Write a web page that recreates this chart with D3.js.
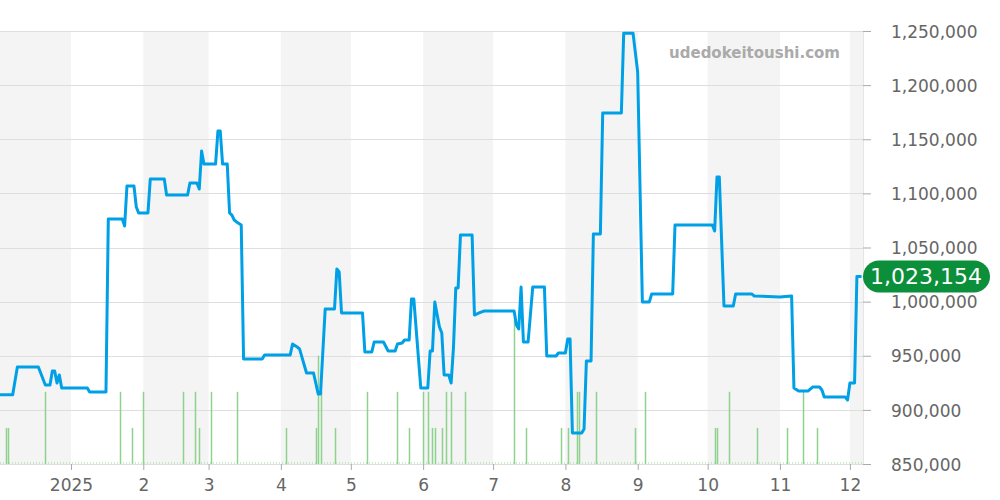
<!DOCTYPE html>
<html>
<head>
<meta charset="utf-8">
<script src="https://cdn.jsdelivr.net/npm/d3@7"></script>
<style>
  body { margin: 0; background: #fff; }
  svg text { font-family: "DejaVu Sans", sans-serif; }
</style>
</head>
<body>
<div class="chart"></div>
<script>
// price history (line) and listing counts (green bars)

var w = 1000, h = 500;

var priceDates = [
  "2024-12-01","2024-12-07","2024-12-09","2024-12-18","2024-12-21","2024-12-23","2024-12-24","2024-12-25",
  "2024-12-26","2024-12-27","2024-12-28","2025-01-08","2025-01-09","2025-01-16","2025-01-17","2025-01-23",
  "2025-01-24","2025-01-25","2025-01-28","2025-01-29","2025-01-30","2025-02-03","2025-02-04","2025-02-10",
  "2025-02-11","2025-02-20","2025-02-21","2025-02-24","2025-02-25","2025-02-26","2025-02-27","2025-03-04",
  "2025-03-05","2025-03-06","2025-03-07","2025-03-09","2025-03-10","2025-03-11","2025-03-12","2025-03-13",
  "2025-03-15","2025-03-16","2025-03-24","2025-03-25","2025-04-05","2025-04-06","2025-04-08","2025-04-09",
  "2025-04-12","2025-04-15","2025-04-17","2025-04-18","2025-04-20","2025-04-24","2025-04-25","2025-04-26",
  "2025-04-27","2025-05-06","2025-05-07","2025-05-10","2025-05-11","2025-05-15","2025-05-17","2025-05-20",
  "2025-05-21","2025-05-23","2025-05-24","2025-05-26","2025-05-27","2025-05-28","2025-05-31","2025-06-03",
  "2025-06-04","2025-06-05","2025-06-06","2025-06-08","2025-06-09","2025-06-10","2025-06-12","2025-06-13",
  "2025-06-14","2025-06-15","2025-06-16","2025-06-17","2025-06-22","2025-06-23","2025-06-25","2025-06-27",
  "2025-07-10","2025-07-11","2025-07-12","2025-07-13","2025-07-14","2025-07-16","2025-07-18","2025-07-23",
  "2025-07-24","2025-07-28","2025-07-29","2025-08-01","2025-08-02","2025-08-03","2025-08-04","2025-08-08",
  "2025-08-09","2025-08-10","2025-08-12","2025-08-13","2025-08-16","2025-08-17","2025-08-25","2025-08-26",
  "2025-08-30","2025-09-01","2025-09-03","2025-09-06","2025-09-07","2025-09-16","2025-09-17","2025-10-03",
  "2025-10-04","2025-10-05","2025-10-06","2025-10-08","2025-10-12","2025-10-13","2025-10-20","2025-10-21",
  "2025-11-01","2025-11-06","2025-11-07","2025-11-09","2025-11-13","2025-11-15","2025-11-18","2025-11-19",
  "2025-11-20","2025-11-29","2025-11-30","2025-12-01","2025-12-03","2025-12-04","2025-12-06"
];

var priceValues = [
  914000,914000,939600,939600,923000,923000,935900,935900,
  924800,932200,920200,920200,916500,916500,1076300,1076300,
  1069900,1106800,1106800,1087400,1081900,1081900,1113300,1113300,
  1098500,1098500,1109600,1109600,1104000,1139100,1127100,1127100,
  1157600,1157600,1127100,1127100,1081900,1080000,1075400,1073600,
  1070800,947000,947000,950700,950700,960800,958100,956300,
  934100,934100,914700,914700,993200,993200,1030100,1027400,
  989500,989500,953500,953500,962700,962700,954400,954400,
  960800,961800,964500,964500,1002400,1002400,920200,920200,
  954400,954400,999700,976600,971000,932200,932200,924800,
  957200,1012600,1012600,1061500,1061500,987600,989500,991300,
  991300,978400,974700,1013500,962700,962700,1013500,1013500,
  949800,949800,952500,952500,965500,965500,878600,878600,
  882300,945100,945100,1062500,1062500,1174200,1174200,1248000,
  1248000,1212100,999700,999700,1007000,1007000,1070800,1070800,
  1065200,1115100,1115100,996000,996000,1007000,1007000,1005200,
  1004300,1005200,920200,917400,917400,921100,921100,918400,
  911900,911900,909100,924800,924800,1023154,1023154
];

var countDates = [
  "2024-12-04","2024-12-05","2024-12-21","2025-01-22","2025-01-27","2025-02-01","2025-02-18","2025-02-23",
  "2025-02-25","2025-03-02","2025-03-13","2025-04-03","2025-04-16","2025-04-17","2025-04-18","2025-04-24",
  "2025-05-08","2025-05-21","2025-05-26","2025-06-01","2025-06-03","2025-06-05","2025-06-06","2025-06-09",
  "2025-06-11","2025-06-13","2025-06-19","2025-07-10","2025-07-15","2025-07-30","2025-08-02","2025-08-06",
  "2025-08-07","2025-08-14","2025-08-31","2025-09-04","2025-10-04","2025-10-05","2025-10-10","2025-10-22",
  "2025-11-04","2025-11-11","2025-11-17"
];
var countValues = [
  1,1,2,2,1,2,2,2,
  1,2,2,1,1,3,2,1,
  2,2,1,2,2,1,1,1,
  2,2,2,4,1,1,1,2,
  2,2,1,2,1,1,2,1,
  1,2,1
];

var yTicks = [850000, 900000, 950000, 1000000, 1050000, 1100000, 1150000, 1200000, 1250000];
var monthLabels = ["2025","2","3","4","5","6","7","8","9","10","11","12"];
var lastPrice = 1023154;

var parse = d3.timeParse("%Y-%m-%d");
var plotL = 0, plotR = 863, plotT = 31, plotB = 464;

var x = d3.scaleTime()
  .domain([parse("2024-12-01"), parse("2025-12-07")])
  .range([-1.3, 863.9]);
var y = d3.scaleLinear().domain([850000, 1250000]).range([plotB, plotT]);
var yCount = d3.scaleLinear().domain([0, 12]).range([plotB, plotT]);

var svg = d3.select('.chart').append('svg')
  .attr('width', w)
  .attr('height', h);

var defs = svg.append('defs');
defs.append('clipPath').attr('id', 'clip')
  .append('rect')
  .attr('x', plotL).attr('y', 0)
  .attr('width', plotR - plotL).attr('height', plotB);

// month bands
var months = d3.timeMonth.range(parse("2024-12-01"), parse("2026-01-01"));
svg.append('g').attr('clip-path', 'url(#clip)')
  .selectAll('rect')
  .data(months.filter(function(d, i) { return i % 2 == 0; }))
  .enter().append('rect')
  .attr('x', function(d) { return x(d); })
  .attr('y', plotT)
  .attr('width', function(d) { return x(d3.timeMonth.offset(d, 1)) - x(d); })
  .attr('height', plotB - plotT)
  .attr('fill', '#f4f4f4');

// grid lines
svg.append('g').selectAll('line')
  .data(yTicks)
  .enter().append('line')
  .attr('x1', plotL).attr('x2', plotR)
  .attr('y1', function(d) { return Math.round(y(d)) + 0.5; })
  .attr('y2', function(d) { return Math.round(y(d)) + 0.5; })
  .attr('stroke', '#dedede');

svg.append('line')
  .attr('x1', plotR + 0.5).attr('x2', plotR + 0.5)
  .attr('y1', plotT).attr('y2', plotB)
  .attr('stroke', '#e6e6e6');

// right axis
var yAxis = svg.append('g')
  .attr('transform', 'translate(' + plotR + ',0)')
  .call(d3.axisRight(y).tickValues(yTicks).tickFormat(d3.format(',')).tickSize(8).tickPadding(20));
yAxis.select('.domain').remove();
yAxis.selectAll('.tick line').attr('stroke', '#aaa');
yAxis.selectAll('.tick text')
  .attr('fill', '#666')
  .style('font-size', '17px')
  .attr('dy', '0.36em');

// bottom axis
var xTickDates = d3.timeMonth.range(parse("2025-01-01"), parse("2025-12-02"));
var xAxis = svg.append('g')
  .attr('transform', 'translate(0,' + plotB + ')')
  .call(d3.axisBottom(x).tickValues(xTickDates)
    .tickFormat(function(d, i) { return monthLabels[i]; })
    .tickSize(6).tickPadding(9));
xAxis.select('.domain').remove();
xAxis.selectAll('.tick line').attr('stroke', '#aaa');
xAxis.selectAll('.tick text')
  .attr('fill', '#666')
  .style('font-size', '17px');

// count bars
var countData = countDates.map(function(d, i) { return { date: parse(d), value: countValues[i] }; });
svg.append('line')
  .attr('x1', plotL).attr('x2', plotR)
  .attr('y1', plotB - 1).attr('y2', plotB - 1)
  .attr('stroke', '#9ad69a')
  .attr('stroke-dasharray', '1,2');
svg.append('g').selectAll('line')
  .data(countData)
  .enter().append('line')
  .attr('x1', function(d) { return Math.round(x(d.date)) + 0.5; })
  .attr('x2', function(d) { return Math.round(x(d.date)) + 0.5; })
  .attr('y1', plotB)
  .attr('y2', function(d) { return yCount(d.value); })
  .attr('stroke', '#8fd18f')
  .attr('stroke-width', 1.5);

// watermark
svg.append('text')
  .attr('x', 840).attr('y', 58)
  .attr('text-anchor', 'end')
  .attr('fill', '#aaa')
  .style('font-size', '15px')
  .style('font-weight', 'bold')
  .text('udedokeitoushi.com');

// price line
var priceData = priceDates.map(function(d, i) { return { date: parse(d), value: priceValues[i] }; });
var line = d3.line()
  .x(function(d) { return x(d.date); })
  .y(function(d) { return y(d.value); });
svg.append('path')
  .datum(priceData)
  .attr('fill', 'none')
  .attr('stroke', '#00a0e6')
  .attr('stroke-width', 3)
  .attr('stroke-linejoin', 'round')
  .attr('d', line);

// last price badge
var by = y(lastPrice);
svg.append('rect')
  .attr('x', 863).attr('y', by - 16)
  .attr('width', 127).attr('height', 32)
  .attr('rx', 16).attr('ry', 16)
  .attr('fill', '#0b8f3a');
svg.append('text')
  .attr('x', 926).attr('y', by)
  .attr('dy', '0.36em')
  .attr('text-anchor', 'middle')
  .attr('fill', '#fff')
  .style('font-size', '22px')
  .text(d3.format(',')(lastPrice));
</script>
</body>
</html>
